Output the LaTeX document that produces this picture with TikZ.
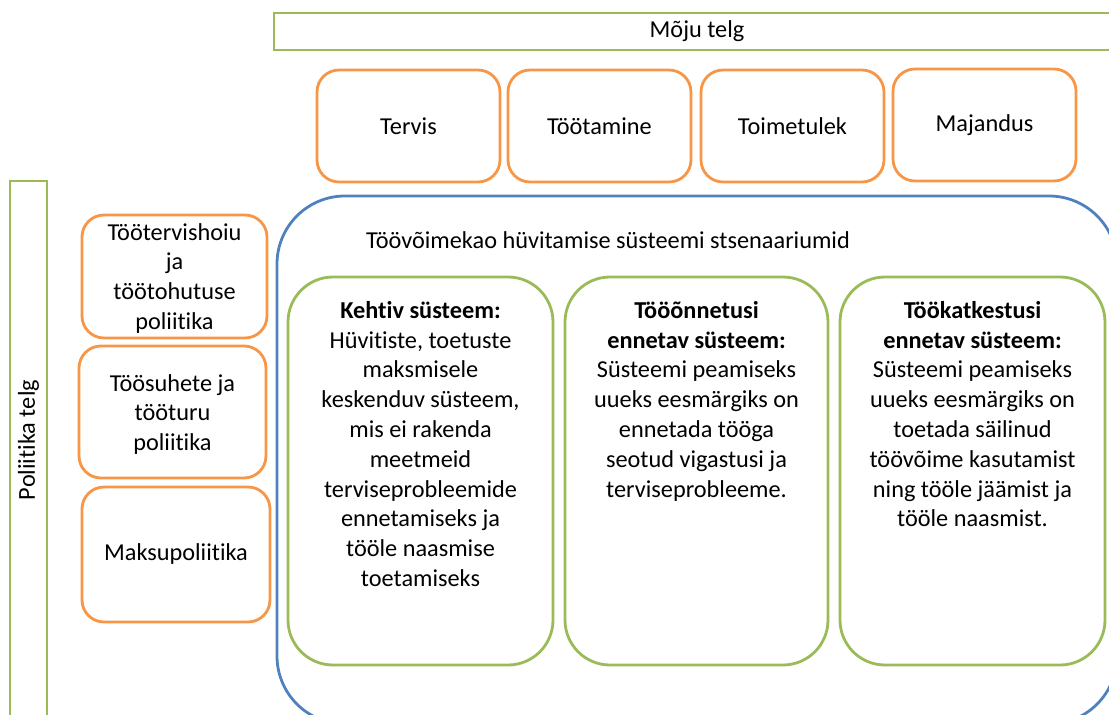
\documentclass[tikz,border=0pt]{standalone}
\usepackage{fontspec}
\setmainfont{Carlito}[RawFeature=-liga]
\definecolor{oorange}{HTML}{F79646}
\definecolor{ogreen}{HTML}{9BBB59}
\definecolor{oblue}{HTML}{4F81BD}
\begin{document}
\begin{tikzpicture}[x=1pt,y=-1pt,
  every node/.style={font=\fontsize{24.3}{29.8}\selectfont, inner sep=0pt},
  axisbar/.style={draw=ogreen, line width=2.6pt, rectangle},
  obox/.style={draw=oorange, line width=2.8pt, rounded corners=22pt, align=center},
  gbox/.style={draw=ogreen, line width=2.8pt, rounded corners=45pt},
  bbox/.style={draw=oblue, line width=2.8pt, rounded corners=68pt},
  btext/.style={anchor=north, align=center}]
\useasboundingbox (0,0) rectangle (1109,715);
\clip (0,0) rectangle (1109,715);
% axes
\node[axisbar, minimum width=860, minimum height=37] (moju) at (704,31.5) {};
\node (mojutext) at (697,31.5) {Mõju telg};
\node[axisbar, minimum width=37, minimum height=560] (pol) at (28.5,461) {};
\node[rotate=90] (poltext) at (28.5,440) {Poliitika telg};
% top orange boxes
\node[obox, minimum width=183, minimum height=112] (tervis) at (408.5,126) {Tervis};
\node[obox, minimum width=183, minimum height=112] (tootamine) at (599.5,126) {Töötamine};
\node[obox, minimum width=183, minimum height=112] (toimetulek) at (792.5,126) {Toimetulek};
\node[obox, minimum width=183, minimum height=112] (majandus) at (984.5,125) {Majandus};
% left orange boxes
\node[obox, minimum width=185, minimum height=123] (tth) at (174.5,276.5) {};
\node[btext] (tthtext) at (174.5,223) {Töötervishoiu\\ja\\töötohutuse\\poliitika};
\node[obox, minimum width=187, minimum height=132] (tsh) at (172.5,412) {};
\node[btext] (tshtext) at (172.5,374) {Töösuhete ja\\tööturu\\poliitika};
\node[obox, minimum width=188, minimum height=135] (maks) at (176,554.5) {Maksupoliitika};
% blue scenario container
\node[bbox, minimum width=840, minimum height=528] (scen) at (697,460) {};
\node (scentitle) at (608,240) {Töövõimekao hüvitamise süsteemi stsenaariumid};
% green scenario boxes
\node[gbox, minimum width=265, minimum height=388] (kehtiv) at (420.5,471) {};
\node[btext] (kehtivtext) at (420.5,301) {\textbf{Kehtiv süsteem:}\\Hüvitiste, toetuste\\maksmisele\\keskenduv süsteem,\\mis ei rakenda\\meetmeid\\terviseprobleemide\\ennetamiseks ja\\tööle naasmise\\toetamiseks};
\node[gbox, minimum width=263, minimum height=388] (onnetus) at (696.5,471) {};
\node[btext] (onnetustext) at (696.5,301) {\textbf{Tööõnnetusi}\\\textbf{ennetav süsteem:}\\Süsteemi peamiseks\\uueks eesmärgiks on\\ennetada tööga\\seotud vigastusi ja\\terviseprobleeme.};
\node[gbox, minimum width=265, minimum height=388] (katkestus) at (972.5,471) {};
\node[btext] (katkestustext) at (972.5,301) {\textbf{Töökatkestusi}\\\textbf{ennetav süsteem:}\\Süsteemi peamiseks\\uueks eesmärgiks on\\toetada säilinud\\töövõime kasutamist\\ning tööle jäämist ja\\tööle naasmist.};
\end{tikzpicture}
\end{document}
